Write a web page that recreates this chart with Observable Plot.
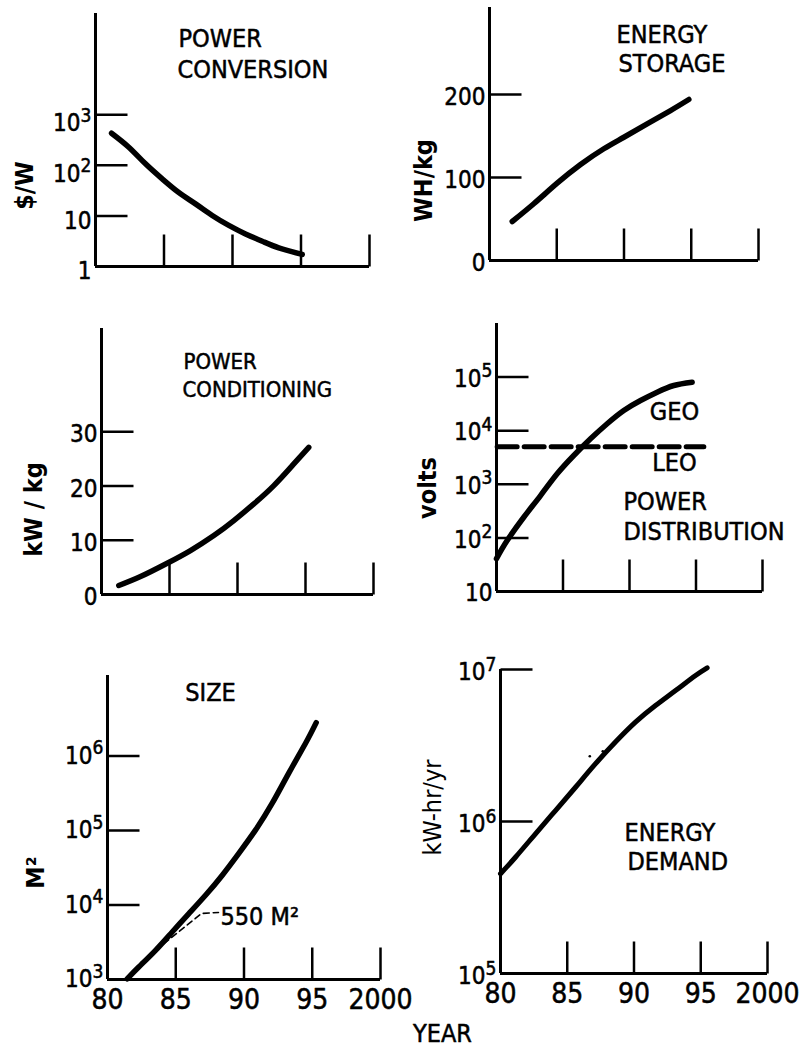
<!DOCTYPE html>
<html><head><meta charset="utf-8">
<script src="https://cdn.jsdelivr.net/npm/d3@7"></script>
<script src="https://cdn.jsdelivr.net/npm/@observablehq/plot@0.6"></script>
<style>
html,body{margin:0;padding:0;background:#fff;}
#chart{position:relative;width:801px;height:1050px;overflow:hidden;background:#fff;color:#000;}
#chart svg{position:absolute;}
</style></head><body><div id="chart"></div>
<script>
const FONT = "'DejaVu Sans Condensed','Liberation Sans Narrow',sans-serif";

// shared x axis
const YEAR_DOMAIN = [1980, 2000];
const YEAR_TICKS = [1985, 1990, 1995, 2000];
const YEAR_LABEL_VALUES = [1980, 1985, 1990, 1995, 2000];
const YEAR_LABELS = ["80", "85", "90", "95", "2000"];

// Power conversion ($/W)
const convYears = [1981.17, 1982.43, 1983.65, 1984.87, 1986.08, 1987.3, 1988.52, 1989.73, 1990.95, 1992.17, 1993.38, 1995.09];
const convCost  = [431, 228, 107, 54, 29, 17.3, 10.2, 6.5, 4.4, 3.16, 2.34, 1.73];
const convTickValues = [1, 10, 100, 1000];
const convTickLabels = ["1", "10", "10^2", "10^3"];

// Energy storage (WH/kg)
const storYears = [1981.69, 1983.29, 1985.03, 1986.77, 1988.5, 1989.99, 1991.72, 1993.46, 1994.82];
const storWh    = [47, 68.4, 93.2, 115.7, 134.7, 148.6, 164.8, 180.8, 194.1];
const storTickValues = [0, 100, 200];
const storTickLabels = ["0", "100", "200"];

// Power conditioning (kW/kg)
const condYears = [1981.27, 1982.87, 1984.83, 1986.54, 1988.26, 1989.73, 1991.2, 1992.67, 1994.14, 1995.24];
const condKw    = [1.66, 3.31, 5.76, 8.1, 10.86, 13.62, 16.69, 20.06, 24.06, 27.11];
const condTickValues = [0, 10, 20, 30];
const condTickLabels = ["0", "10", "20", "30"];

// Power distribution (volts)
const geoYears = [1980.0, 1980.8, 1982.05, 1983.31, 1984.56, 1985.81, 1987.07, 1988.32, 1989.57, 1990.83, 1992.08, 1993.33, 1994.71];
const geoVolts = [41, 89, 243, 617, 1570, 3450, 7060, 13460, 23800, 36600, 52300, 69700, 80300];
const leoYears = [1980.05, 1995.59];
const leoVolts = [5000, 5000];
const distTickValues = [10, 100, 1000, 10000, 100000];
const distTickLabels = ["10", "10^2", "10^3", "10^4", "10^5"];

// Size (M^2)
const sizeYears = [1981.44, 1982.29, 1983.52, 1984.74, 1985.96, 1987.18, 1988.41, 1989.62, 1990.84, 1992.07, 1993.28, 1994.51, 1995.29];
const sizeM2    = [1020, 1470, 2460, 4340, 7660, 13500, 25100, 49300, 101000, 232000, 588000, 1480000, 2800000];
const leaderYears = [1982.42, 1986.89, 1988.13];
const leaderM2    = [1690, 7690, 7940];
const sizeTickValues = [1e3, 1e4, 1e5, 1e6];
const sizeTickLabels = ["10^3", "10^4", "10^5", "10^6"];

// Energy demand (kW-hr/yr)
const demYears = [1980.0, 1981.12, 1982.62, 1984.12, 1985.62, 1987.12, 1988.61, 1990.11, 1991.61, 1993.11, 1994.61, 1995.48];
const demKwh   = [4.53e5, 5.82e5, 8.3e5, 1.18e6, 1.68e6, 2.4e6, 3.33e6, 4.5e6, 5.79e6, 7.27e6, 9.13e6, 1.026e7];
const specYears = [1986.69, 1987.66];
const specKwh   = [2.69e6, 2.9e6];
const demTickValues = [1e5, 1e6, 1e7];
const demTickLabels = ["10^5", "10^6", "10^7"];

// target widths of the narrow lettering in the reference (px)
const TITLE_WIDTHS = {"$/W": 40, "WH/kg": 65, "kW / kg": 72, "volts": 48, "M²": 32, "kW-hr/yr": 102};

const pts = (xs, ys) => xs.map((x, i) => ({x, y: ys[i]}));
const lineShape = {draw(ctx, l) { ctx.moveTo(0, 0); ctx.lineTo(0, -l); }};
const INK = {fill: "black", stroke: "black", strokeWidth: 0.5};

function fit(svg, aria, lenFn) {
  svg.querySelectorAll(`g[aria-label="${aria}"] text`).forEach(t => {
    const L = lenFn(t.textContent);
    if (L) { t.setAttribute("textLength", L); t.setAttribute("lengthAdjust", "spacingAndGlyphs"); }
  });
}

function panel(p) {
  const [x0, x1, yt, yb] = p.frame;
  const mL = 110, mR = 50, mT = 20, mB = 80;
  const labels = p.tickLabels.map((s, i) => { const [b, e] = s.split("^"); return {v: p.tickValues[i], b, e: e || ""}; });
  const plain = labels.filter(d => !d.e), expo = labels.filter(d => d.e);
  const yTicks = p.tickValues.filter(v => v !== p.yDomain[0]);
  const marks = [
    Plot.ruleX([YEAR_DOMAIN[0]], {strokeWidth: 3}),
    Plot.ruleY([p.yDomain[0]], {strokeWidth: 3}),
    Plot.vector(YEAR_TICKS, {x: d => d, frameAnchor: "bottom", length: 32, anchor: "start", shape: lineShape, stroke: "black", fill: "none", strokeWidth: 2.5, strokeLinecap: "butt"}),
    Plot.vector(yTicks, {y: d => d, frameAnchor: "left", rotate: 90, length: 32, anchor: "start", shape: lineShape, stroke: "black", fill: "none", strokeWidth: 2.5, strokeLinecap: "butt"}),
    Plot.text(plain, {y: "v", text: "b", frameAnchor: "left", textAnchor: "end", lineAnchor: "middle", dx: -4, dy: p.plainDy, fontSize: 24, fontFamily: FONT, ariaLabel: "ticklabel", ...INK}),
    Plot.text(expo, {y: "v", text: "b", frameAnchor: "left", textAnchor: "end", lineAnchor: "middle", dx: -15, dy: p.labelDy, fontSize: 24, fontFamily: FONT, ariaLabel: "ticklabel", ...INK}),
    Plot.text(expo, {y: "v", text: "e", frameAnchor: "left", textAnchor: "start", lineAnchor: "middle", dx: -15, dy: p.labelDy - 8, fontSize: 19, fontFamily: FONT, ...INK}),
    Plot.text([p.yTitle], {text: d => d, frameAnchor: "top-left", dx: p.yTitlePos[0] - x0, dy: p.yTitlePos[1] - yt, rotate: -90, textAnchor: "middle", lineAnchor: "middle", fontSize: 25, fontWeight: p.yTitleWeight || "bold", fontFamily: FONT, ariaLabel: "ytitle", fill: "black"}),
    ...p.labels.map(([text, x, y, w, anchor, size]) => Plot.text([text], {text: d => d, frameAnchor: "top-left", dx: x - x0, dy: y - yt,
      textAnchor: anchor || "start", lineAnchor: "middle", fontSize: size || 25, fontFamily: FONT, ariaLabel: "w" + w, ...INK})),
    ...p.extra
  ];
  if (p.xLabels) {
    marks.push(Plot.text(YEAR_LABEL_VALUES, {x: d => d, text: (d, i) => YEAR_LABELS[i], frameAnchor: "bottom", lineAnchor: "middle", dy: 21, fontSize: 28, fontFamily: FONT, ariaLabel: "yearlabel", ...INK}));
  }
  const svg = Plot.plot({
    width: x1 - x0 + mL + mR,
    height: yb - yt + mT + mB,
    marginLeft: mL, marginRight: mR, marginTop: mT, marginBottom: mB,
    x: {domain: YEAR_DOMAIN, axis: null},
    y: {type: p.yType, domain: p.yDomain, axis: null},
    style: {background: "transparent", overflow: "visible", fontFamily: FONT, color: "black"},
    marks
  });
  fit(svg, "yearlabel", s => s.length * 11.3);
  fit(svg, "ticklabel", s => s.length > 1 ? s.length * 11.5 : 0);
  fit(svg, "ytitle", s => TITLE_WIDTHS[s]);
  p.labels.forEach(([, , , w]) => fit(svg, "w" + w, () => w));
  svg.style.left = (x0 - mL) + "px";
  svg.style.top = (yt - mT) + "px";
  svg.style.maxWidth = "none";
  document.getElementById("chart").appendChild(svg);
}

const curve = (xs, ys, w = 5.5) => Plot.line(pts(xs, ys), {x: "x", y: "y", curve: "natural", strokeWidth: w, strokeLinecap: "round"});

// labels: [text, x, y (line centre), width in px, anchor, font size]
panel({frame: [95, 369, 13, 266], yType: "log", yDomain: [1, 1e5], tickValues: convTickValues, tickLabels: convTickLabels, labelDy: 9, plainDy: 5,
  yTitle: "$/W", yTitlePos: [24, 185],
  labels: [["POWER", 178, 38, 75], ["CONVERSION", 177, 69, 145]],
  extra: [curve(convYears, convCost)]});

panel({frame: [489, 758, 7, 260], yType: "linear", yDomain: [0, 305], tickValues: storTickValues, tickLabels: storTickLabels, labelDy: 3, plainDy: 3,
  yTitle: "WH/kg", yTitlePos: [423, 180],
  labels: [["ENERGY", 616, 34, 82], ["STORAGE", 618, 63, 97]],
  extra: [curve(storYears, storWh)]});

panel({frame: [101, 373, 328, 594], yType: "linear", yDomain: [0, 49], tickValues: condTickValues, tickLabels: condTickLabels, labelDy: 3, plainDy: 3,
  yTitle: "kW / kg", yTitlePos: [33.5, 509],
  labels: [["POWER", 183, 361, 74, "start", 22], ["CONDITIONING", 182, 389, 158, "start", 22]],
  extra: [curve(condYears, condKw)]});

panel({frame: [496, 762, 323, 591], yType: "log", yDomain: [10, 1e6], tickValues: distTickValues, tickLabels: distTickLabels, labelDy: 2, plainDy: 2,
  yTitle: "volts", yTitlePos: [427.5, 487.5],
  labels: [["GEO", 674, 411, 38, "middle"], ["LEO", 674, 462, 36, "middle"], ["POWER", 623, 501, 72], ["DISTRIBUTION", 623, 531, 152]],
  extra: [curve(geoYears, geoVolts),
    Plot.line(pts(leoYears, leoVolts), {x: "x", y: "y", strokeWidth: 5, strokeDasharray: "20,7"})]});

panel({frame: [107, 380, 675, 979], yType: "log", yDomain: [1e3, 1.2e7], tickValues: sizeTickValues, tickLabels: sizeTickLabels, labelDy: 0, plainDy: 0, xLabels: true,
  yTitle: "M²", yTitlePos: [35, 872],
  labels: [["SIZE", 210, 692, 50, "middle"], ["550 M²", 220, 916, 75]],
  extra: [curve(sizeYears, sizeM2),
    Plot.line(pts(leaderYears, leaderM2), {x: "x", y: "y", strokeWidth: 1.6, strokeDasharray: "6,4"})]});

panel({frame: [500, 767, 669, 973], yType: "log", yDomain: [1e5, 1e7], tickValues: demTickValues, tickLabels: demTickLabels, labelDy: 3, plainDy: 3, xLabels: true,
  yTitle: "kW-hr/yr", yTitlePos: [432.5, 807], yTitleWeight: "normal",
  labels: [["ENERGY", 624, 832, 84], ["DEMAND", 627, 861, 89], ["YEAR", 442, 1033, 52, "middle"]],
  extra: [curve(demYears, demKwh, 5),
    Plot.dot(pts(specYears, specKwh), {x: "x", y: "y", r: 1.3, fill: "black"})]});
</script></body></html>
